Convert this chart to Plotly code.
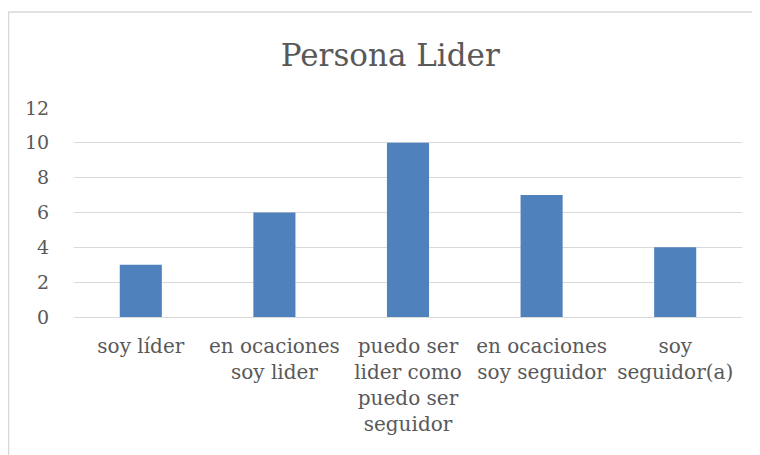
import plotly.graph_objects as go

categories = ["soy líder", "en ocaciones<br>soy lider", "puedo ser<br>lider como<br>puedo ser<br>seguidor",
              "en ocaciones<br>soy seguidor", "soy<br>seguidor(a)"]
values = [3, 6, 10, 7, 4]
y_ticks = [0, 2, 4, 6, 8, 10, 12]

text_color = "#595959"
grid_color = "#D9D9D9"
font_family = "DejaVu Serif"

fig = go.Figure(go.Bar(x=categories, y=values, marker=dict(color="#4F81BD", line_width=0)))

# page body adds an 8px offset, margins are set with that in mind
fig.update_layout(
    width=760, height=455,
    margin=dict(l=66, r=26, t=100, b=146),
    paper_bgcolor="white", plot_bgcolor="white",
    bargap=0.685,
    showlegend=False,
    font=dict(family=font_family, size=20, color=text_color),
    title=dict(text="Persona Lider", x=0.503, xanchor="center", y=0.897, yanchor="middle",
               font=dict(family=font_family, size=31, color=text_color)),
)
fig.update_xaxes(showgrid=False, showline=False, ticks="outside", ticklen=11, tickcolor="rgba(0,0,0,0)",
                 tickfont=dict(size=20))
fig.update_yaxes(range=[0, 12], tickvals=y_ticks, showgrid=True, gridcolor=grid_color, gridwidth=1.3,
                 zeroline=True, zerolinecolor=grid_color, zerolinewidth=1.3, showline=False,
                 ticks="outside", ticklen=20, tickcolor="rgba(0,0,0,0)", tickfont=dict(size=19))

# chart frame
fig.add_shape(type="rect", xref="paper", yref="paper", x0=-0.098, x1=1.05, y0=-0.8, y1=1.459,
              line=dict(color="#D9D9D9", width=1.5), fillcolor="rgba(0,0,0,0)", layer="below")

fig.write_html("out.html")
